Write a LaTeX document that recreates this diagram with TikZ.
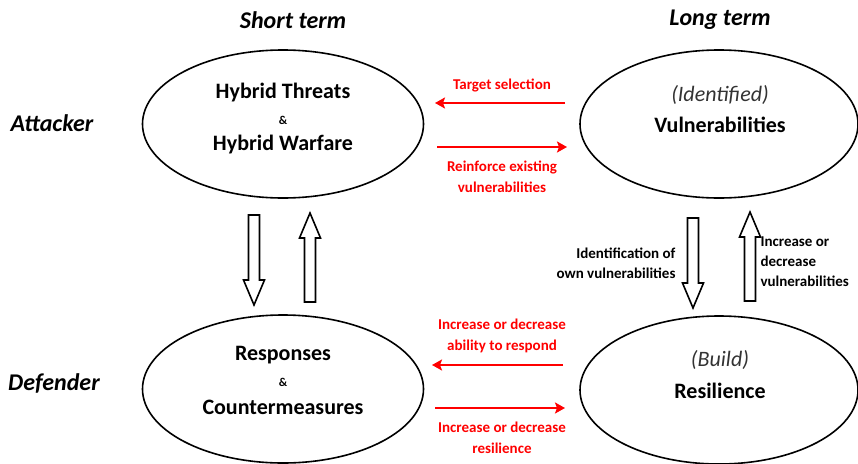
\documentclass[tikz,border=0pt]{standalone}
\usepackage{fontspec}
\setmainfont{Carlito}
\usetikzlibrary{shapes.geometric,arrows.meta}
\begin{document}
\begin{tikzpicture}[x=1pt,y=-1pt,
  oval/.style={draw, ellipse, line width=1.6pt, minimum width=281pt, minimum height=148pt, inner sep=0pt},
  big/.style={font=\fontsize{22}{26}\selectfont\bfseries},
  ital/.style={font=\fontsize{22}{26}\selectfont\itshape, text=black!80},
  amp/.style={font=\fontsize{12}{14}\selectfont\bfseries},
  headtxt/.style={font=\fontsize{24}{28}\selectfont\bfseries\itshape},
  redlab/.style={font=\fontsize{15}{20.5}\selectfont\bfseries, text=red, align=center},
  blklab/.style={font=\fontsize{15}{20}\selectfont\bfseries},
  redarrow/.style={draw=red, line width=2pt, -{Stealth[length=10pt,width=11pt,inset=2pt]}},
  hollow/.style={draw, line width=1.6pt, fill=white, line join=miter},
  downblock/.pic={\draw[hollow] (-5.5,0) -- (-5.5,65) -- (-10.5,65) -- (0,90) -- (10.5,65) -- (5.5,65) -- (5.5,0) -- cycle;},
  upblock/.pic={\draw[hollow] (-5.5,0) -- (-5.5,-64) -- (-10.5,-64) -- (0,-89) -- (10.5,-64) -- (5.5,-64) -- (5.5,0) -- cycle;}]

\useasboundingbox (0,0) rectangle (858,463);

% headings
\node[headtxt] (short) at (293,20) {Short term};
\node[headtxt] (long) at (720,20) {Long term};
\node[headtxt] (att) at (52,123) {Attacker};
\node[headtxt] (def) at (54,383) {Defender};

% ellipses
\node[oval] (hyb) at (283,124) {};
\node[oval, minimum width=278pt] (vul) at (719,124) {};
\node[oval] (res) at (283,389) {};
\node[oval, minimum width=278pt] (bld) at (719,390) {};

% ellipse texts
\node[big] (h1) at (283,93) {Hybrid Threats};
\node[amp] (h2) at (283,120) {\&};
\node[big] (h3) at (283,145) {Hybrid Warfare};
\node[ital] (v1) at (720,95) {(Identified)};
\node[big] (v2) at (720,125) {Vulnerabilities};
\node[big] (r1) at (283,355) {Responses};
\node[amp] (r2) at (283,382) {\&};
\node[big] (r3) at (283,407) {Countermeasures};
\node[ital] (b1) at (720,360) {(Build)};
\node[big] (b2) at (720,391) {Resilience};

% red arrows
\coordinate (t1s) at (565,103); \coordinate (t1e) at (435,103);
\coordinate (r1s) at (437,147); \coordinate (r1e) at (567,147);
\coordinate (b1s) at (563,365); \coordinate (b1e) at (432,365);
\coordinate (b2s) at (435,408); \coordinate (b2e) at (565,408);
\draw[redarrow] (t1s) -- (t1e);
\draw[redarrow] (r1s) -- (r1e);
\draw[redarrow] (b1s) -- (b1e);
\draw[redarrow] (b2s) -- (b2e);

\node[redlab] (lt) at (502,85) {Target selection};
\node[redlab] (lr) at (502,177) {Reinforce existing\\vulnerabilities};
\node[redlab] (lb1) at (502,336) {Increase or decrease\\ability to respond};
\node[redlab] (lb2) at (502,438) {Increase or decrease\\resilience};

% block arrows
\pic at (254,215) {downblock};
\pic at (310,302) {upblock};
\pic at (693,218) {downblock};
\pic at (750,301) {upblock};

\node[blklab, align=right, anchor=east] (idl) at (679,263) {Identification of\\own vulnerabilities};
\node[blklab, align=left, anchor=west] (incl) at (757,262) {Increase or\\decrease\\vulnerabilities};
\end{tikzpicture}
\end{document}
